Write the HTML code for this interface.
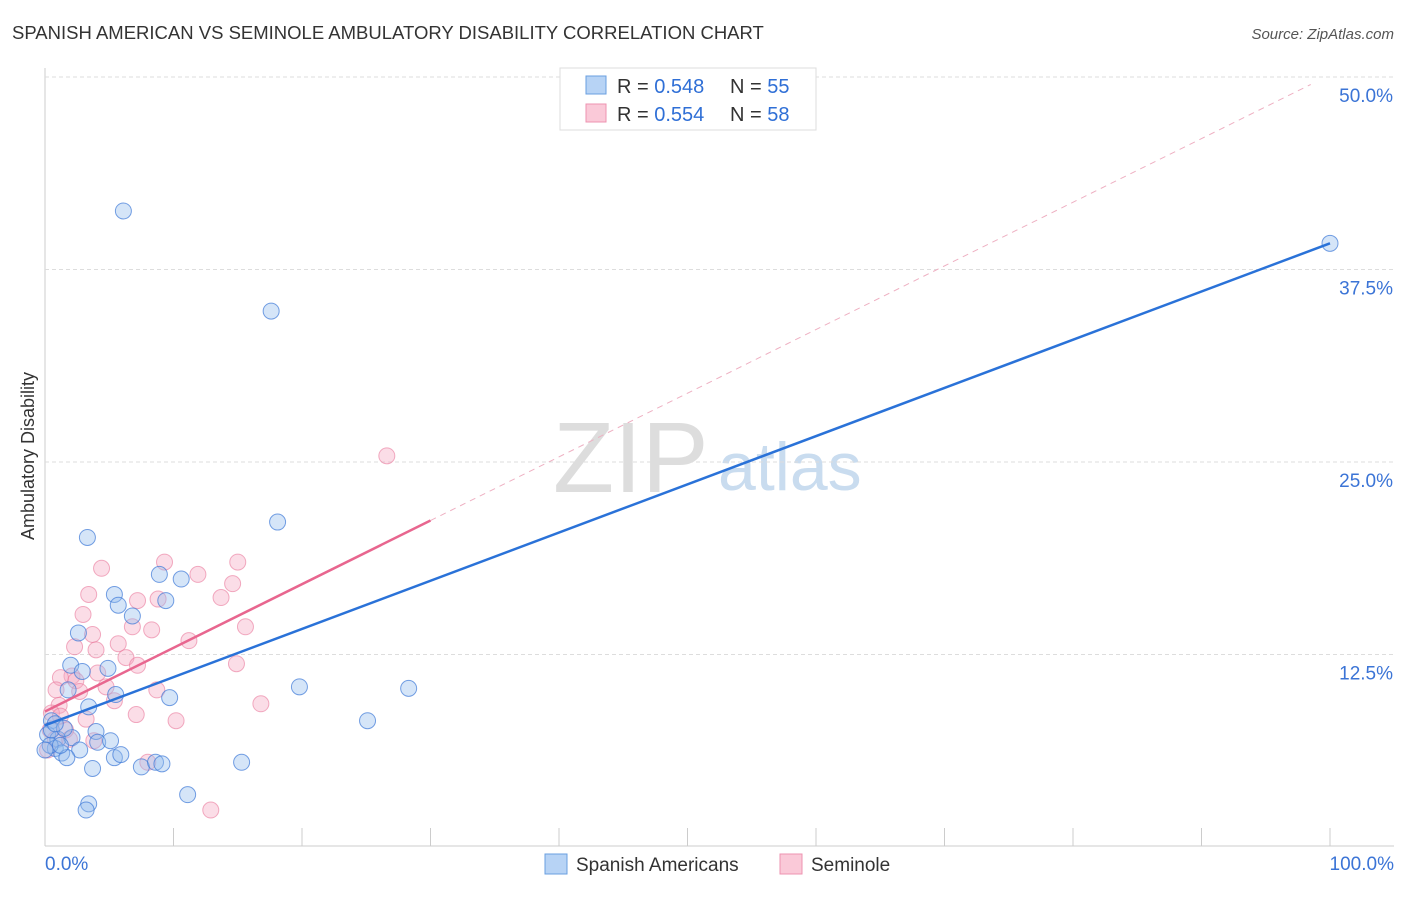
<!DOCTYPE html>
<html><head><meta charset="utf-8"><style>
body{margin:0;background:#fff;font-family:"Liberation Sans",sans-serif}
svg text{font-family:"Liberation Sans",sans-serif}
</style></head><body>
<svg id="c" width="1406" height="892">
<text x="12" y="39" font-size="18.5" fill="#333">SPANISH AMERICAN VS SEMINOLE AMBULATORY DISABILITY CORRELATION CHART</text>
<text x="1394" y="39" font-size="15" fill="#555" font-style="italic" text-anchor="end">Source: ZipAtlas.com</text>
<text x="34" y="456" font-size="18" fill="#333" transform="rotate(-90 34 456)" text-anchor="middle">Ambulatory Disability</text>
<text x="553" y="492" font-size="100" fill="#ddd" font-family="Liberation Serif">ZIP</text>
<text x="718" y="490" font-size="68" fill="#c9dcef">atlas</text>
<g id="grid"></g><g id="pts"></g><g id="lines"></g>
<g>
<rect x="560" y="68" width="256" height="62" fill="#fff" stroke="#ddd"/>
<rect x="586" y="76" width="20" height="18" fill="#b7d3f5" stroke="#6a9fe0"/>
<text x="617" y="93" font-size="20" fill="#333">R = <tspan fill="#2f6fd6">0.548</tspan></text>
<text x="730" y="93" font-size="20" fill="#333">N = <tspan fill="#2f6fd6">55</tspan></text>
<rect x="586" y="104" width="20" height="18" fill="#fac9d8" stroke="#ee93b0"/>
<text x="617" y="121" font-size="20" fill="#333">R = <tspan fill="#2f6fd6">0.554</tspan></text>
<text x="730" y="121" font-size="20" fill="#333">N = <tspan fill="#2f6fd6">58</tspan></text>
</g>
<g>
<rect x="545" y="854" width="22" height="20" fill="#b7d3f5" stroke="#6a9fe0"/>
<text x="576" y="871" font-size="19" fill="#333">Spanish Americans</text>
<rect x="780" y="854" width="22" height="20" fill="#fac9d8" stroke="#ee93b0"/>
<text x="811" y="871" font-size="19" fill="#333">Seminole</text>
</g>
</svg>
<script>
const yTicks=[12.5,25,37.5,50];
const yTickLabels=["12.5%","25.0%","37.5%","50.0%"];
const blueX=[6.1,17.6,100,18.1,3.3,8.9,10.6,5.4,5.7,9.4,6.8,2.6,2.0,4.9,2.9,1.8,5.5,9.7,3.4,19.8,28.3,25.1,0.5,0.2,1.0,2.1,3.969,4.1,5.1,0.8,1.3,2.7,1.7,5.4,5.9,7.5,3.7,8.6,9.1,15.3,11.1,3.4,3.2,0.4,1.2,0,0.5,1.5,0.8];
const blueY=[41.3,34.8,39.2,21.1,20.1,17.7,17.4,16.4,15.7,16.0,15.0,13.9,11.8,11.6,11.4,10.2,9.9,9.7,9.1,10.4,10.3,8.2,8.2,7.3,7.0,7.1,7.5,6.8,6.9,6.4,6.1,6.3,5.8,5.8,6.0,5.2,5.1,5.5,5.4,5.5,3.4,2.8,2.4,6.6,6.6,6.3,7.6,7.7,8.0];
const pinkX=[26.6,9.3,15.0,4.4,11.9,14.6,3.4,13.7,7.2,8.8,2.96,6.8,3.7,8.3,15.6,11.2,5.7,2.3,3.97,6.3,7.2,14.9,2.1,2.4,1.2,4.1,2.7,0.86,4.75,8.7,5.4,16.8,1.1,7.1,10.2,3.2,0.5,0.4,1.6,3.8,8.0,12.9,1.2,0.2,1.9,0.8];
const pinkY=[25.4,18.5,18.5,18.1,17.7,17.1,16.4,16.2,16.0,16.1,15.1,14.3,13.8,14.1,14.3,13.4,13.2,13.0,12.8,12.3,11.8,11.9,11.1,10.8,11.0,11.3,10.1,10.2,10.4,10.2,9.5,9.3,9.2,8.6,8.2,8.3,8.7,7.6,7.6,6.9,5.5,2.4,8.5,6.3,7.0,7.0];
const blueFit=[7.9,39.2];
const pinkFit=[8.8,21.2,30];
const X=v=>45+v*12.85, Y=v=>847-v*15.4;
const NS="http://www.w3.org/2000/svg";
const mk=(p,t,a)=>{const e=document.createElementNS(NS,t);for(const k in a)e.setAttribute(k,a[k]);p.appendChild(e);return e;};
const grid=document.getElementById('grid');
mk(grid,'line',{x1:45,y1:68,x2:45,y2:846,stroke:'#ccc'});
mk(grid,'line',{x1:45,y1:846,x2:1394,y2:846,stroke:'#ccc'});
for(let i=0;i<=10;i++){const l=mk(grid,'line',{x1:X(i*10),y1:828,x2:X(i*10),y2:846,stroke:'#ccc'});

}
yTicks.forEach((t,i)=>{const l=mk(grid,'line',{x1:45,y1:Y(t),x2:1394,y2:Y(t),stroke:'#ddd','stroke-dasharray':'4,3'});


const tx=mk(grid,'text',{x:1393,y:Y(t)+25,'font-size':19,fill:'#3b74d6','text-anchor':'end'});tx.textContent=yTickLabels[i];

});
const xl=mk(grid,'text',{x:45,y:870,'font-size':19,fill:'#3b74d6'});xl.textContent='0.0%';


const xr=mk(grid,'text',{x:1394,y:870,'font-size':19,fill:'#3b74d6','text-anchor':'end'});xr.textContent='100.0%';


const pts=document.getElementById('pts');
pinkX.forEach((v,i)=>{const c=mk(pts,'circle',{cx:X(v),cy:Y(pinkY[i]),r:8,fill:'rgba(246,170,194,0.4)',stroke:'rgba(234,120,155,0.6)'});

});
blueX.forEach((v,i)=>{const c=mk(pts,'circle',{cx:X(v),cy:Y(blueY[i]),r:8,fill:'rgba(150,190,238,0.4)',stroke:'rgba(60,120,215,0.7)'});

});
const lines=document.getElementById('lines');
const ps=(pinkFit[1]-pinkFit[0])/pinkFit[2];
const pd=mk(lines,'line',{x1:X(pinkFit[2]),y1:Y(pinkFit[1]),x2:X(98.5),y2:Y(pinkFit[0]+ps*98.5),stroke:'#eeb0c2','stroke-dasharray':'6,5'});


const pl=mk(lines,'line',{x1:X(0),y1:Y(pinkFit[0]),x2:X(pinkFit[2]),y2:Y(pinkFit[1]),stroke:'#e8668f','stroke-width':2.5});


const bl=mk(lines,'line',{x1:X(0),y1:Y(blueFit[0]),x2:X(100),y2:Y(blueFit[1]),stroke:'#2a72d8','stroke-width':2.5});


</script>
</body></html>
